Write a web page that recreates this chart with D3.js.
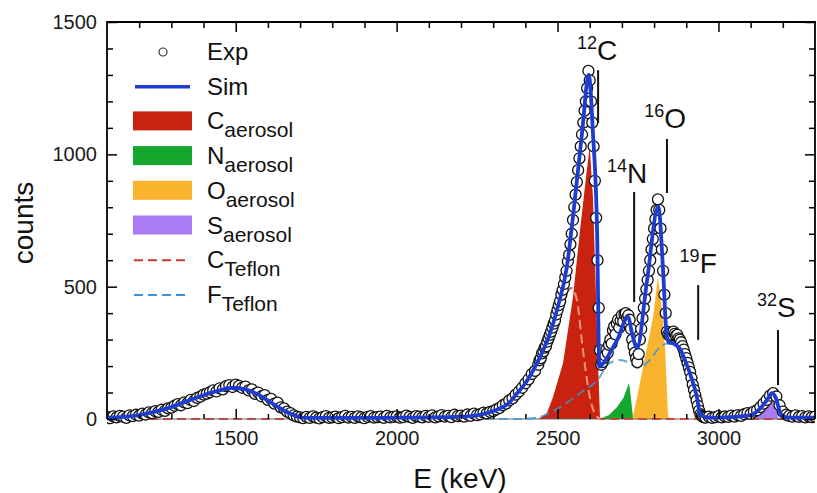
<!DOCTYPE html>
<html>
<head>
<meta charset="utf-8">
<script src="https://cdn.jsdelivr.net/npm/d3@7"></script>
<style>
  body { margin: 0; background: #fff; }
  svg { display: block; font-family: "Liberation Sans", Arial, Helvetica, sans-serif; }
</style>
</head>
<body>
<div id="chart"></div>
<script>
// simulated spectrum, [E (keV), counts]
var sim = [[1100,5],[1150,8],[1200,15],[1250,28],[1300,45],[1350,68],[1400,90],[1450,108],[1490,118],[1530,112],
  [1570,92],[1610,62],[1650,32],[1690,10],[1720,4],[1800,4],[1900,4],[2000,5],[2100,6],[2200,9],[2250,14],
  [2300,30],[2350,62],[2375,98],[2400,135],[2425,185],[2450,245],[2477,325],[2500,420],[2529,575],[2548,765],
  [2576,1080],[2597,1300],[2610,1080],[2623,702],[2630,198],[2645,215],[2665,255],[2685,298],[2719,386],
  [2732,320],[2747,268],[2777,513],[2813,802],[2828,560],[2838,330],[2845,290],[2860,285],[2880,265],
  [2900,210],[2912,170],[2933,83],[2943,22],[2955,8],[2970,5],[3000,5],[3050,8],[3100,15],[3130,40],
  [3150,70],[3166,98],[3178,80],[3190,30],[3200,10],[3220,5],[3300,5]]

// components
var cAerosol = [[2440,0],[2467,23],[2486,83],[2517,211],[2548,461],[2570,714],[2590,930],[2600,1029],[2610,840],[2626,212],[2632,0]]
var nAerosol = [[2630,0],[2660,15],[2685,45],[2705,80],[2722,136],[2727,90],[2735,0]]
var oAerosol = [[2732,0],[2745,70],[2766,197],[2797,386],[2812,538],[2824,420],[2834,272],[2843,22],[2846,0]]
var sAerosol = [[3076,0],[3120,34],[3151,83],[3166,98],[3182,34],[3186,0]]
var cTeflon = [[1100,0],[2250,0],[2280,8],[2300,20],[2350,55],[2400,125],[2430,175],[2467,290],[2500,405],
  [2525,472],[2543,495],[2560,450],[2578,270],[2600,85],[2626,5],[2640,0],[3300,0]]
var fTeflon = [[1100,0],[2380,0],[2420,3],[2446,8],[2508,45],[2570,98],[2632,160],[2654,204],[2694,223],
  [2725,211],[2747,193],[2787,223],[2818,272],[2845,285],[2870,280],[2890,250],[2910,180],[2930,80],
  [2945,10],[2960,0],[3300,0]]

// experimental counts: 1100-2430 every 10 keV, 2440-2956 every 4 keV, 2960-3300 every 10 keV
var expLow = [
  8, 3, 10, 6, 12, 9, 4, 14, 11, 16,
  13, 20, 17, 25, 22, 30, 27, 35, 31, 40,
  43, 50, 56, 52, 63, 60, 72, 68, 80, 84,
  92, 96, 101, 108, 104, 116, 112, 124, 128, 121,
  130, 125, 118, 122, 108, 112, 95, 100, 86, 90,
  72, 76, 58, 62, 44, 40, 28, 22, 14, 9,
  6, 3, 8, 4, 10, 5, 2, 7, 11, 4,
  6, 9, 3, 7, 12, 5, 8, 4, 10, 6,
  3, 8, 11, 5, 7, 9, 4, 12, 6, 8,
  10, 5, 7, 13, 8, 4, 11, 9, 6, 12,
  8, 14, 6, 10, 15, 9, 12, 7, 16, 11,
  13, 9, 17, 12, 20, 15, 18, 24, 21, 27,
  30, 36, 42, 52, 58, 70, 78, 92, 104, 118,
  135, 150, 170, 182]
var expPeak = [
  205, 222, 230, 248, 256, 270, 275, 292, 305, 318,
  330, 345, 360, 372, 395, 412, 430, 445, 470, 488,
  510, 535, 560, 595, 620, 660, 700, 752, 800, 848,
  895, 940, 985, 1030, 1075, 1120, 1165, 1200, 1250, 1315,
  1280, 1200, 1120, 1030, 900, 760, 600, 420, 260, 205,
  215, 230, 240, 262, 250, 280, 300, 285, 335, 350,
  320, 360, 375, 345, 372, 392, 368, 395, 400, 382,
  392, 375, 340, 300, 275, 250, 230, 215, 245, 300,
  340, 380, 420, 455, 490, 525, 560, 600, 640, 680,
  720, 755, 790, 830, 790, 720, 640, 560, 470, 400,
  330, 320, 315, 325, 318, 330, 322, 315, 318, 305,
  300, 290, 275, 262, 245, 230, 212, 195, 178, 155,
  130, 110, 90, 70, 50, 32, 18, 12, 8, 6]
var expHigh = [
  5, 9, 4, 7, 11, 6, 10, 8, 13, 9,
  15, 12, 18, 22, 19, 28, 33, 45, 58, 72,
  88, 98, 85, 52, 28, 16, 12, 9, 14, 8,
  11, 6, 10, 7, 9]

// isotope markers
var isoMass = ["12", "14", "16", "19", "32"]
var isoSym = ["C", "N", "O", "F", "S"]
var isoLabelE = [2623, 2716, 2834, 2937, 3180]
var isoLabelC = [1356, 892, 1099, 552, 385]
var isoLineE = [2626, 2738, 2840, 2937, 3185]
var isoLineTop = [1318, 858, 1058, 506, 336]
var isoLineBot = [1118, 442, 854, 299, 128]

var legendNames = ["Exp", "Sim", "C", "N", "O", "S", "C", "F"]
var legendSubs = ["", "", "aerosol", "aerosol", "aerosol", "aerosol", "Teflon", "Teflon"]

var colC = "#c9220e", colN = "#16a82e", colO = "#f9b42e", colS = "#aa7bf2"
var colSim = "#1e3cd0", colCT = "#cc3a30", colFT = "#3d92d8"

var width = 817, height = 493
var margin = {top: 22, right: 2, bottom: 74, left: 107}

var expData = []
d3.range(1100, 2431, 10).forEach(function(e, i) { expData.push([e, expLow[i]]) })
d3.range(2440, 2957, 4).forEach(function(e, i) { expData.push([e, expPeak[i]]) })
d3.range(2960, 3301, 10).forEach(function(e, i) { expData.push([e, expHigh[i]]) })

var x = d3.scaleLinear().domain([1100, 3300]).range([margin.left, width - margin.right])
var y = d3.scaleLinear().domain([0, 1500]).range([height - margin.bottom, margin.top])

var svg = d3.select("#chart").append("svg")
  .attr("width", width)
  .attr("height", height)

var area = d3.area()
  .x(function(d) { return x(d[0]) })
  .y0(y(0))
  .y1(function(d) { return y(d[1]) })

var line = d3.line()
  .x(function(d) { return x(d[0]) })
  .y(function(d) { return y(d[1]) })
  .curve(d3.curveMonotoneX)

var defs = svg.append("defs")
defs.append("clipPath").attr("id", "clip")
  .append("rect")
  .attr("x", x(1100)).attr("y", y(1500))
  .attr("width", x(3300) - x(1100)).attr("height", y(0) - y(1500) + 10)
defs.append("clipPath").attr("id", "clipRed")
  .append("path").datum(cAerosol).attr("d", area)

var plot = svg.append("g").attr("clip-path", "url(#clip)")

plot.append("path").datum(cAerosol).attr("d", area).attr("fill", colC)
plot.append("path").datum(nAerosol).attr("d", area).attr("fill", colN)
plot.append("path").datum(oAerosol).attr("d", area).attr("fill", colO)
plot.append("path").datum(sAerosol).attr("d", area).attr("fill", colS)

// baseline
plot.append("line")
  .attr("x1", x(1100)).attr("x2", x(3300))
  .attr("y1", y(0)).attr("y2", y(0))
  .attr("stroke", "#666").attr("stroke-width", 1)

plot.append("path").datum(fTeflon).attr("d", line)
  .attr("fill", "none").attr("stroke", colFT).attr("stroke-width", 2)
  .attr("stroke-dasharray", "9,5").attr("opacity", 0.8)
plot.append("path").datum(cTeflon).attr("d", line)
  .attr("fill", "none").attr("stroke", colCT).attr("stroke-width", 2)
  .attr("stroke-dasharray", "9,5").attr("opacity", 0.85)
// pale trace of the C Teflon curve where it runs inside the red fill
plot.append("g").attr("clip-path", "url(#clipRed)")
  .append("path").datum(cTeflon).attr("d", line)
  .attr("fill", "none").attr("stroke", "#ef8f80").attr("stroke-width", 2)
  .attr("stroke-dasharray", "9,5")

plot.selectAll("circle.exp")
  .data(expData)
  .enter().append("circle")
  .attr("class", "exp")
  .attr("cx", function(d) { return x(d[0]) })
  .attr("cy", function(d) { return y(d[1]) })
  .attr("r", 5.5)
  .attr("fill", "#fff")
  .attr("stroke", "#111")
  .attr("stroke-width", 1.3)

plot.append("path").datum(sim).attr("d", line)
  .attr("fill", "none").attr("stroke", colSim).attr("stroke-width", 3.8)
  .attr("stroke-linejoin", "round")

// axes
function styleAxis(g) {
  g.select(".domain").remove()
  g.selectAll(".tick line").attr("stroke", "#000").attr("stroke-width", 1.5)
  g.selectAll(".tick text").attr("font-size", 20).attr("fill", "#1a1a1a")
    .attr("font-family", "Liberation Sans, Arial, sans-serif")
}

var xMajor = [1500, 2000, 2500, 3000]
var xMinor = d3.range(1200, 3300, 100).filter(function(v) { return xMajor.indexOf(v) < 0 })
var yMajor = [0, 500, 1000, 1500]
var yMinor = d3.range(100, 1500, 100).filter(function(v) { return yMajor.indexOf(v) < 0 })

svg.append("g").attr("transform", "translate(0," + y(0) + ")")
  .call(d3.axisBottom(x).tickValues(xMajor).tickSize(-10).tickSizeOuter(0).tickPadding(12).tickFormat(d3.format("d")))
  .call(styleAxis)
svg.append("g").attr("transform", "translate(0," + y(0) + ")")
  .call(d3.axisBottom(x).tickValues(xMinor).tickSize(-5).tickSizeOuter(0).tickFormat(""))
  .call(styleAxis)
svg.append("g").attr("transform", "translate(0," + y(1500) + ")")
  .call(d3.axisTop(x).tickValues(xMajor).tickSize(-10).tickSizeOuter(0).tickFormat(""))
  .call(styleAxis)
svg.append("g").attr("transform", "translate(0," + y(1500) + ")")
  .call(d3.axisTop(x).tickValues(xMinor).tickSize(-6).tickSizeOuter(0).tickFormat(""))
  .call(styleAxis)
svg.append("g").attr("transform", "translate(" + x(1100) + ",0)")
  .call(d3.axisLeft(y).tickValues(yMajor).tickSize(-10).tickSizeOuter(0).tickPadding(10).tickFormat(d3.format("d")))
  .call(styleAxis)
svg.append("g").attr("transform", "translate(" + x(1100) + ",0)")
  .call(d3.axisLeft(y).tickValues(yMinor).tickSize(-6).tickSizeOuter(0).tickFormat(""))
  .call(styleAxis)
svg.append("g").attr("transform", "translate(" + x(3300) + ",0)")
  .call(d3.axisRight(y).tickValues(yMajor).tickSize(-10).tickSizeOuter(0).tickFormat(""))
  .call(styleAxis)
svg.append("g").attr("transform", "translate(" + x(3300) + ",0)")
  .call(d3.axisRight(y).tickValues(yMinor).tickSize(-6).tickSizeOuter(0).tickFormat(""))
  .call(styleAxis)

// frame (left, top, right)
svg.append("path")
  .attr("d", "M" + x(1100) + "," + y(0) + "V" + y(1500) + "H" + x(3300) + "V" + y(0))
  .attr("fill", "none").attr("stroke", "#000").attr("stroke-width", 1.8)

// axis titles
svg.append("text")
  .attr("transform", "translate(33,223) rotate(-90)")
  .attr("text-anchor", "middle")
  .attr("font-size", 28)
  .attr("fill", "#111")
  .text("counts")
svg.append("text")
  .attr("x", 460).attr("y", 488)
  .attr("text-anchor", "middle")
  .attr("font-size", 28)
  .attr("fill", "#111")
  .text("E (keV)")

// isotope labels
isoSym.forEach(function(s, i) {
  svg.append("line")
    .attr("x1", x(isoLineE[i])).attr("x2", x(isoLineE[i]))
    .attr("y1", y(isoLineTop[i])).attr("y2", y(isoLineBot[i]))
    .attr("stroke", "#111").attr("stroke-width", 2)
  var t = svg.append("text")
    .attr("x", x(isoLabelE[i])).attr("y", y(isoLabelC[i]))
    .attr("text-anchor", "middle")
    .attr("fill", "#111")
  t.append("tspan").attr("font-size", 18).attr("dy", -11).text(isoMass[i])
  t.append("tspan").attr("font-size", 28).attr("dy", 11).text(s)
})

// legend
var legend = svg.append("g")
legendNames.forEach(function(name, i) {
  var by = 60 + i * 34.7
  var cy = by - 8
  if (i == 0) {
    legend.append("circle").attr("cx", 163).attr("cy", cy).attr("r", 4)
      .attr("fill", "#fff").attr("stroke", "#333").attr("stroke-width", 1.2)
  } else if (i == 1) {
    legend.append("line").attr("x1", 135).attr("x2", 190).attr("y1", cy).attr("y2", cy)
      .attr("stroke", colSim).attr("stroke-width", 3.5)
  } else if (i >= 2 && i <= 5) {
    var fills = [colC, colN, colO, colS]
    legend.append("rect").attr("x", 133).attr("y", cy - 10).attr("width", 59).attr("height", 19)
      .attr("fill", fills[i - 2])
  } else {
    legend.append("line").attr("x1", 134).attr("x2", 190).attr("y1", cy).attr("y2", cy)
      .attr("stroke", i == 6 ? colCT : colFT).attr("stroke-width", 2)
      .attr("stroke-dasharray", "9,5")
  }
  var t = legend.append("text").attr("x", 207).attr("y", by).attr("fill", "#111")
  t.append("tspan").attr("font-size", 24).text(name)
  if (legendSubs[i]) {
    t.append("tspan").attr("font-size", 21).attr("dy", 8).text(legendSubs[i])
  }
})
</script>
</body>
</html>
